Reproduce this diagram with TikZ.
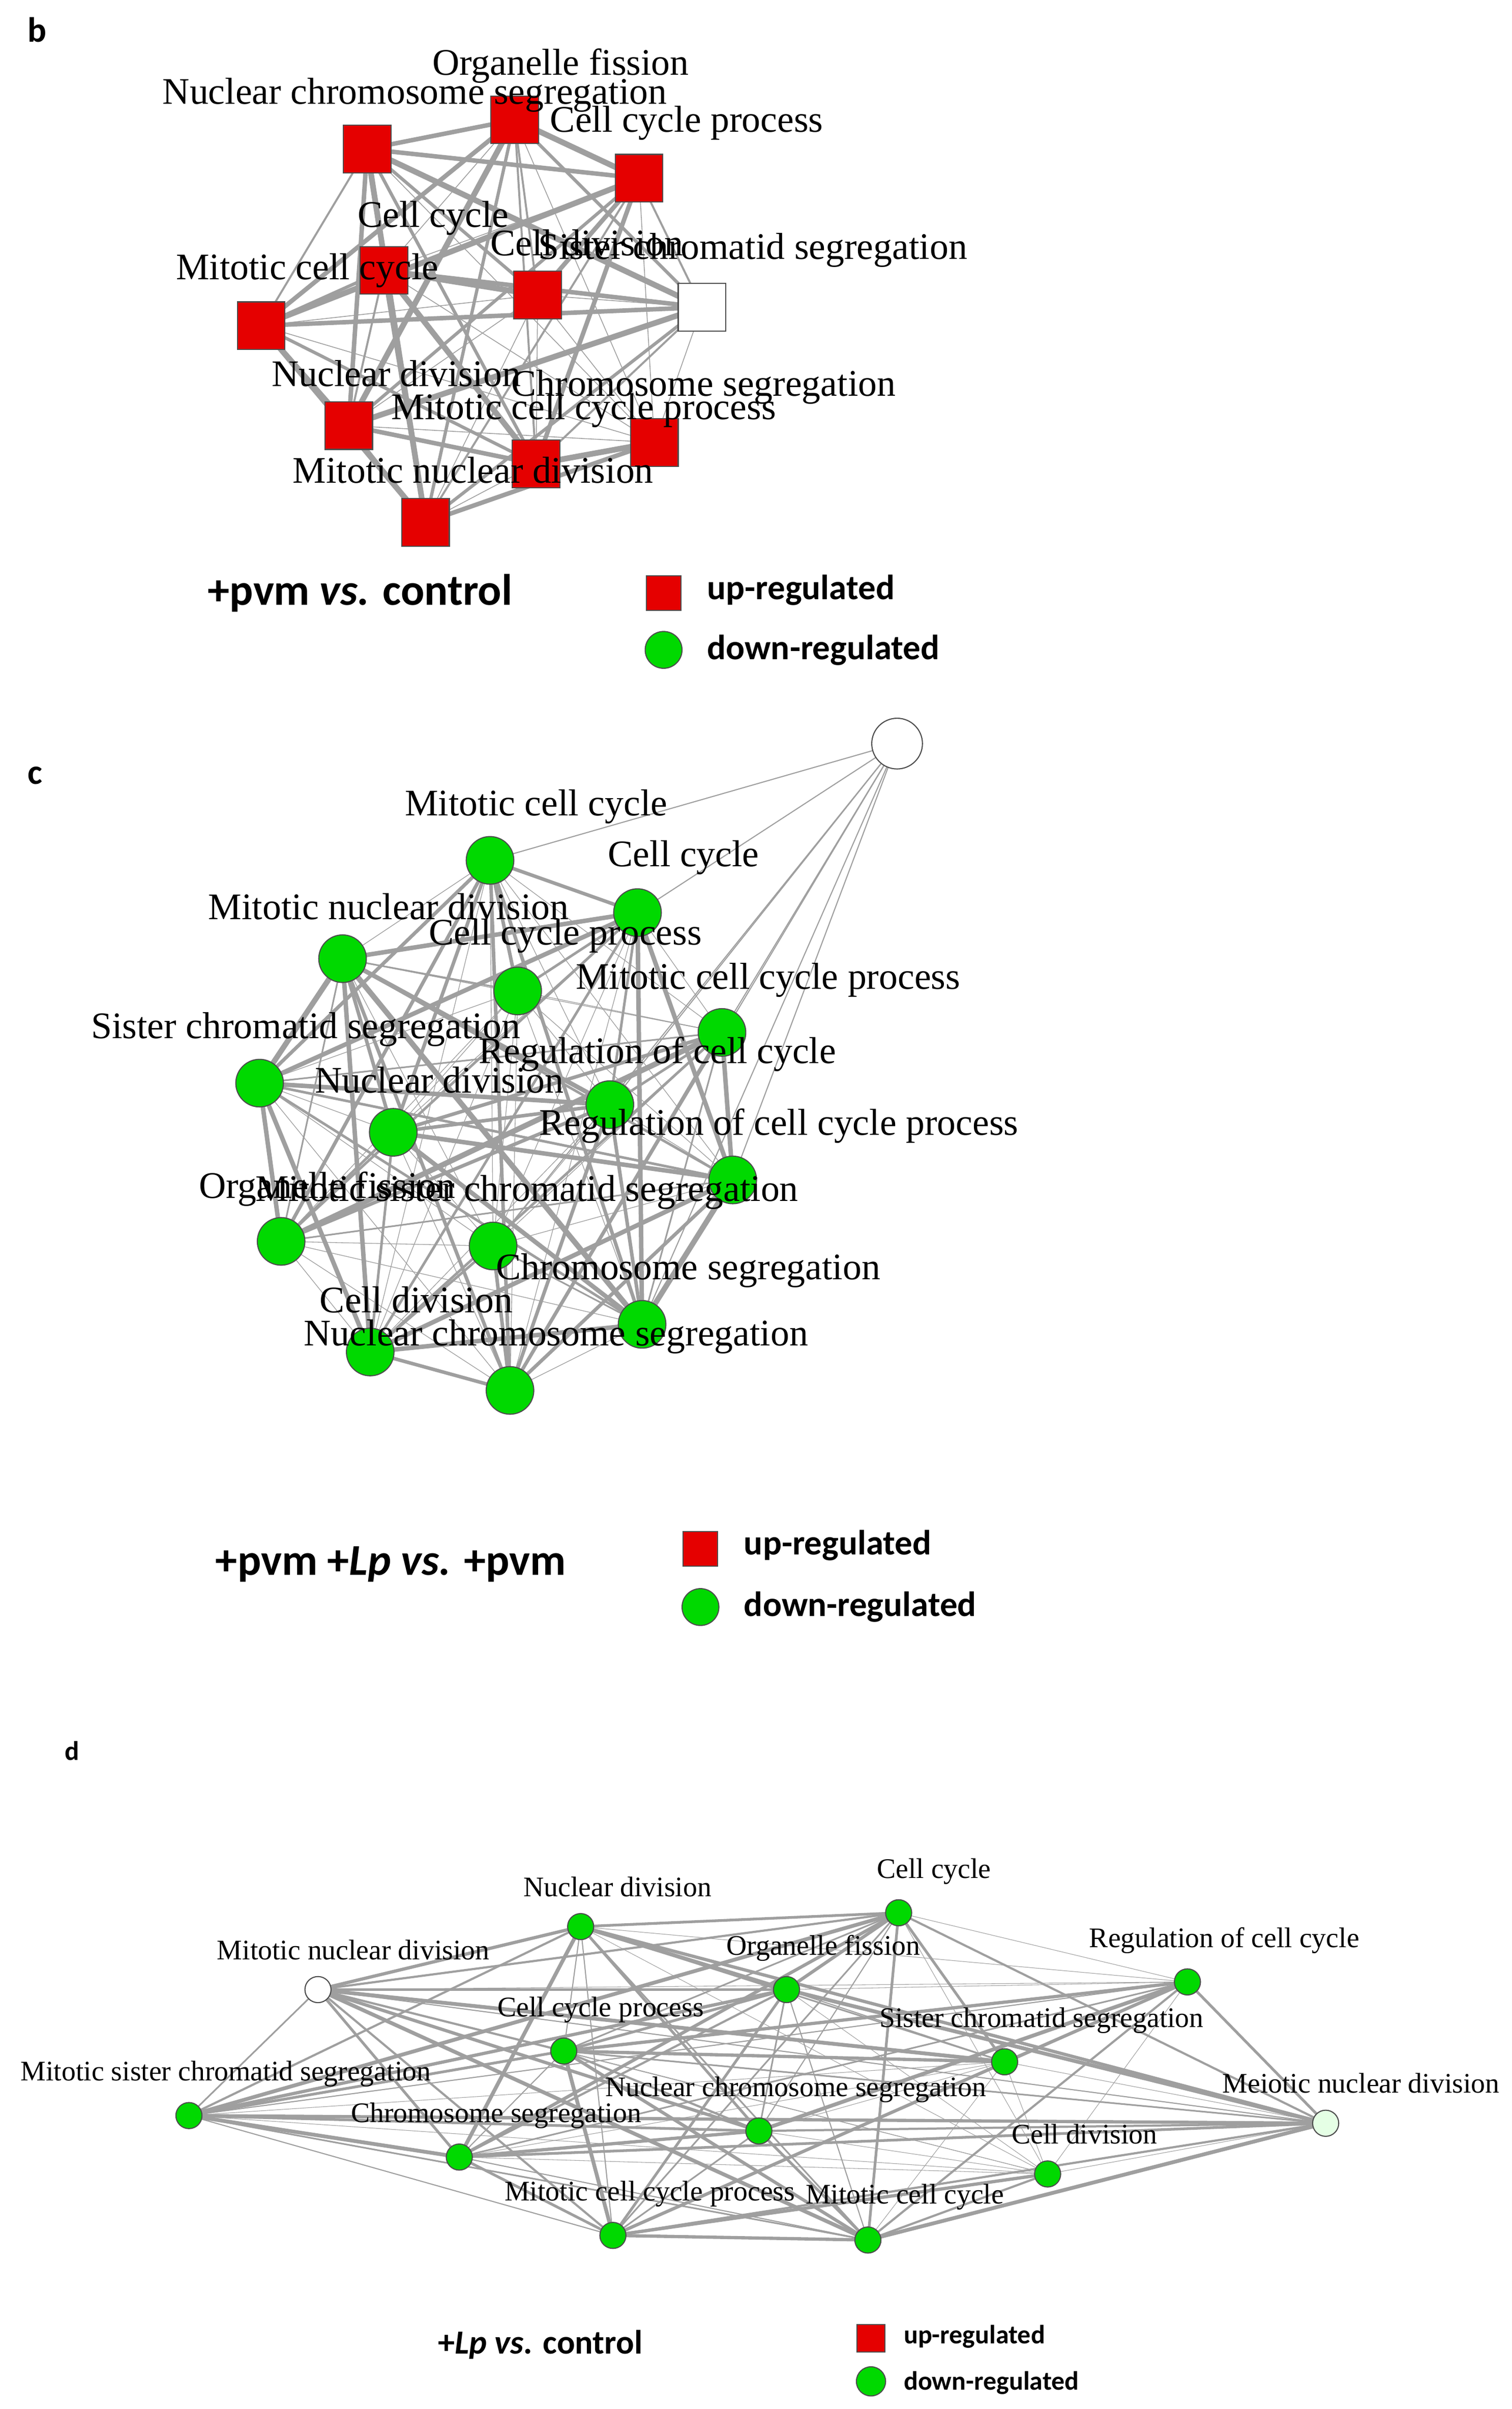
\documentclass[tikz,border=0pt]{standalone}
\usepackage{fontspec}
\setmainfont{Liberation Serif}
\newfontfamily\leg{Carlito}
\begin{document}
\begin{tikzpicture}[x=0.02cm,y=-0.02cm,
 sq/.style={draw=black!70,fill=red!90!black,minimum size=0.62cm,inner sep=0},
 cc/.style={draw=black!70,fill=green!85!black,circle,minimum size=0.62cm,inner sep=0},
 cd/.style={draw=black!70,fill=green!85!black,circle,minimum size=0.34cm,inner sep=0},
 lb/.style={font=\fontsize{13.9}{14}\selectfont,inner sep=0},
 ld/.style={font=\fontsize{10.5}{11}\selectfont,inner sep=0},
 lg/.style={font=\leg\bfseries\fontsize{13}{14}\selectfont,anchor=west,inner sep=0},
 ed/.style={draw=gray!75}]
\useasboundingbox (0,0) rectangle (984,1568);
\fill[white] (0,0) rectangle (984,1568);
% ---------- panel b
\foreach \i/\x/\y in {1/335/78,2/239/97,3/416/116,4/250/176,5/350/192,6/457/200,7/170/212,8/227/277,9/426/288,10/349/302,11/277/340}
  \coordinate (pb\i) at (\x,\y);
\foreach \i in {1,...,11}{\foreach \j in {1,...,11}{\ifnum\i<\j
  \pgfmathsetmacro\w{0.3+mod(\i*\j+\i,5)*0.45}
  \draw[ed,line width=\w pt] (pb\i)--(pb\j);\fi}}
\foreach \i in {1,2,3,4,5,7,8,9,10,11} \node[sq] (b\i) at (pb\i) {};
\node[sq,fill=white] (b6) at (pb6) {};
\node[lb] (tb1) at (365,43) {Organelle fission};
\node[lb] (tb2) at (270,62) {Nuclear chromosome segregation};
\node[lb] (tb3) at (447,80) {Cell cycle process};
\node[lb] (tb4) at (282,142) {Cell cycle};
\node[lb] (tb5) at (382,158) {Cell division};
\node[lb] (tb6) at (490,163) {Sister chromatid segregation};
\node[lb] (tb7) at (200,176) {Mitotic cell cycle};
\node[lb] (tb8) at (258,243) {Nuclear division};
\node[lb] (tb9) at (458,252) {Chromosome segregation};
\node[lb] (tb10) at (380,267) {Mitotic cell cycle process};
\node[lb] (tb11) at (308,306) {Mitotic nuclear division};
\node[font=\leg\bfseries\fontsize{13}{14}\selectfont,anchor=north west] (pbl) at (12,5) {b};
\node[lg,font=\leg\bfseries\fontsize{16.3}{17}\selectfont] (bt) at (135,386) {+pvm \textit{vs.} control};
\node[sq,minimum size=0.45cm] (bl1) at (432,386) {};
\node[cc,minimum size=0.48cm] (bl2) at (432,423) {};
\node[lg] (blt1) at (460,384) {up-regulated};
\node[lg] (blt2) at (460,423) {down-regulated};
% ---------- panel c
\foreach \i/\x/\y in {1/584/484,2/319/560,3/415/594,4/223/624,5/337/645,6/470/672,7/169/705,8/397/719,9/256/737,10/477/768,11/183/808,12/321/811,13/418/862,14/241/880,15/332/905}
  \coordinate (pc\i) at (\x,\y);
\foreach \j in {2,3,6,8,10,12,13,15} \draw[ed,line width=0.4pt] (pc1)--(pc\j);
\foreach \i in {2,...,15}{\foreach \j in {2,...,15}{\ifnum\i<\j
  \pgfmathsetmacro\w{0.25+mod(\i*\j+\j,6)*0.35}
  \draw[ed,line width=\w pt] (pc\i)--(pc\j);\fi}}
\node[cc,fill=white,minimum size=0.66cm] (c1) at (pc1) {};
\foreach \i in {2,...,15} \node[cc] (c\i) at (pc\i) {};
\node[lb] (tc2) at (349,525) {Mitotic cell cycle};
\node[lb] (tc3) at (445,558) {Cell cycle};
\node[lb] (tc4) at (253,590) {Mitotic nuclear division};
\node[lb] (tc5) at (368,609) {Cell cycle process};
\node[lb] (tc6) at (500,638) {Mitotic cell cycle process};
\node[lb] (tc7) at (199,670) {Sister chromatid segregation};
\node[lb] (tc8) at (428,686) {Regulation of cell cycle};
\node[lb] (tc9) at (286,703) {Nuclear division};
\node[lb] (tc10) at (507,733) {Regulation of cell cycle process};
\node[lb] (tc11) at (213,774) {Organelle fission};
\node[lb] (tc12) at (343,776) {Mitotic sister chromatid segregation};
\node[lb] (tc13) at (448,827) {Chromosome segregation};
\node[lb] (tc14) at (271,846) {Cell division};
\node[lb] (tc15) at (362,870) {Nuclear chromosome segregation};
\node[font=\leg\bfseries\fontsize{13}{14}\selectfont,anchor=north west] (pcl) at (12,493) {c};
\node[lg,font=\leg\bfseries\fontsize{16.3}{17}\selectfont] (ct) at (140,1018) {+pvm +\textit{Lp} \textit{vs.} +pvm};
\node[sq,minimum size=0.45cm] (cl1) at (456,1008) {};
\node[cc,minimum size=0.48cm] (cl2) at (456,1046) {};
\node[lg] (clt1) at (484,1006) {up-regulated};
\node[lg] (clt2) at (484,1046) {down-regulated};
% ---------- panel d
\foreach \i/\x/\y in {1/378/1254,2/585/1245,3/207/1295,4/512/1295,5/773/1290,6/367/1335,7/654/1342,8/123/1377,9/494/1387,10/863/1382,11/299/1404,12/682/1415,13/399/1455,14/565/1458}
  \coordinate (pd\i) at (\x,\y);
\foreach \i in {1,...,14}{\foreach \j in {1,...,14}{\ifnum\i<\j
  \pgfmathsetmacro\w{0.2+mod(\i*\j+2*\i,7)*0.2}
  \draw[ed,line width=\w pt] (pd\i)--(pd\j);\fi}}
\foreach \i in {1,2,4,5,6,7,8,9,11,12,13,14} \node[cd] (d\i) at (pd\i) {};
\node[cd,fill=white] (d3) at (pd3) {};
\node[cd,fill=green!10] (d10) at (pd10) {};
\node[ld] (td1) at (402,1228) {Nuclear division};
\node[ld] (td2) at (608,1218) {Cell cycle};
\node[ld] (td3) at (230,1269) {Mitotic nuclear division};
\node[ld] (td4) at (536,1268) {Organelle fission};
\node[ld] (td5) at (797,1263) {Regulation of cell cycle};
\node[ld] (td6) at (391,1308) {Cell cycle process};
\node[ld] (td7) at (678,1315) {Sister chromatid segregation};
\node[ld] (td8) at (147,1350) {Mitotic sister chromatid segregation};
\node[ld] (td9) at (518,1360) {Nuclear chromosome segregation};
\node[ld] (td10) at (886,1356) {Meiotic nuclear division};
\node[ld] (td11) at (323,1377) {Chromosome segregation};
\node[ld] (td12) at (706,1389) {Cell division};
\node[ld] (td13) at (423,1428) {Mitotic cell cycle process};
\node[ld] (td14) at (589,1430) {Mitotic cell cycle};
\node[font=\leg\bfseries\fontsize{10}{11}\selectfont,anchor=north west] (pdl) at (36,1127) {d};
\node[lg,font=\leg\bfseries\fontsize{12.5}{13}\selectfont] (dt) at (285,1526) {+\textit{Lp} \textit{vs.} control};
\node[sq,minimum size=0.36cm] (dl1) at (567,1522) {};
\node[cc,minimum size=0.38cm] (dl2) at (567,1550) {};
\node[lg,font=\leg\bfseries\fontsize{9.8}{10}\selectfont] (dlt1) at (588,1521) {up-regulated};
\node[lg,font=\leg\bfseries\fontsize{9.8}{10}\selectfont] (dlt2) at (588,1551) {down-regulated};
\end{tikzpicture}
\end{document}
